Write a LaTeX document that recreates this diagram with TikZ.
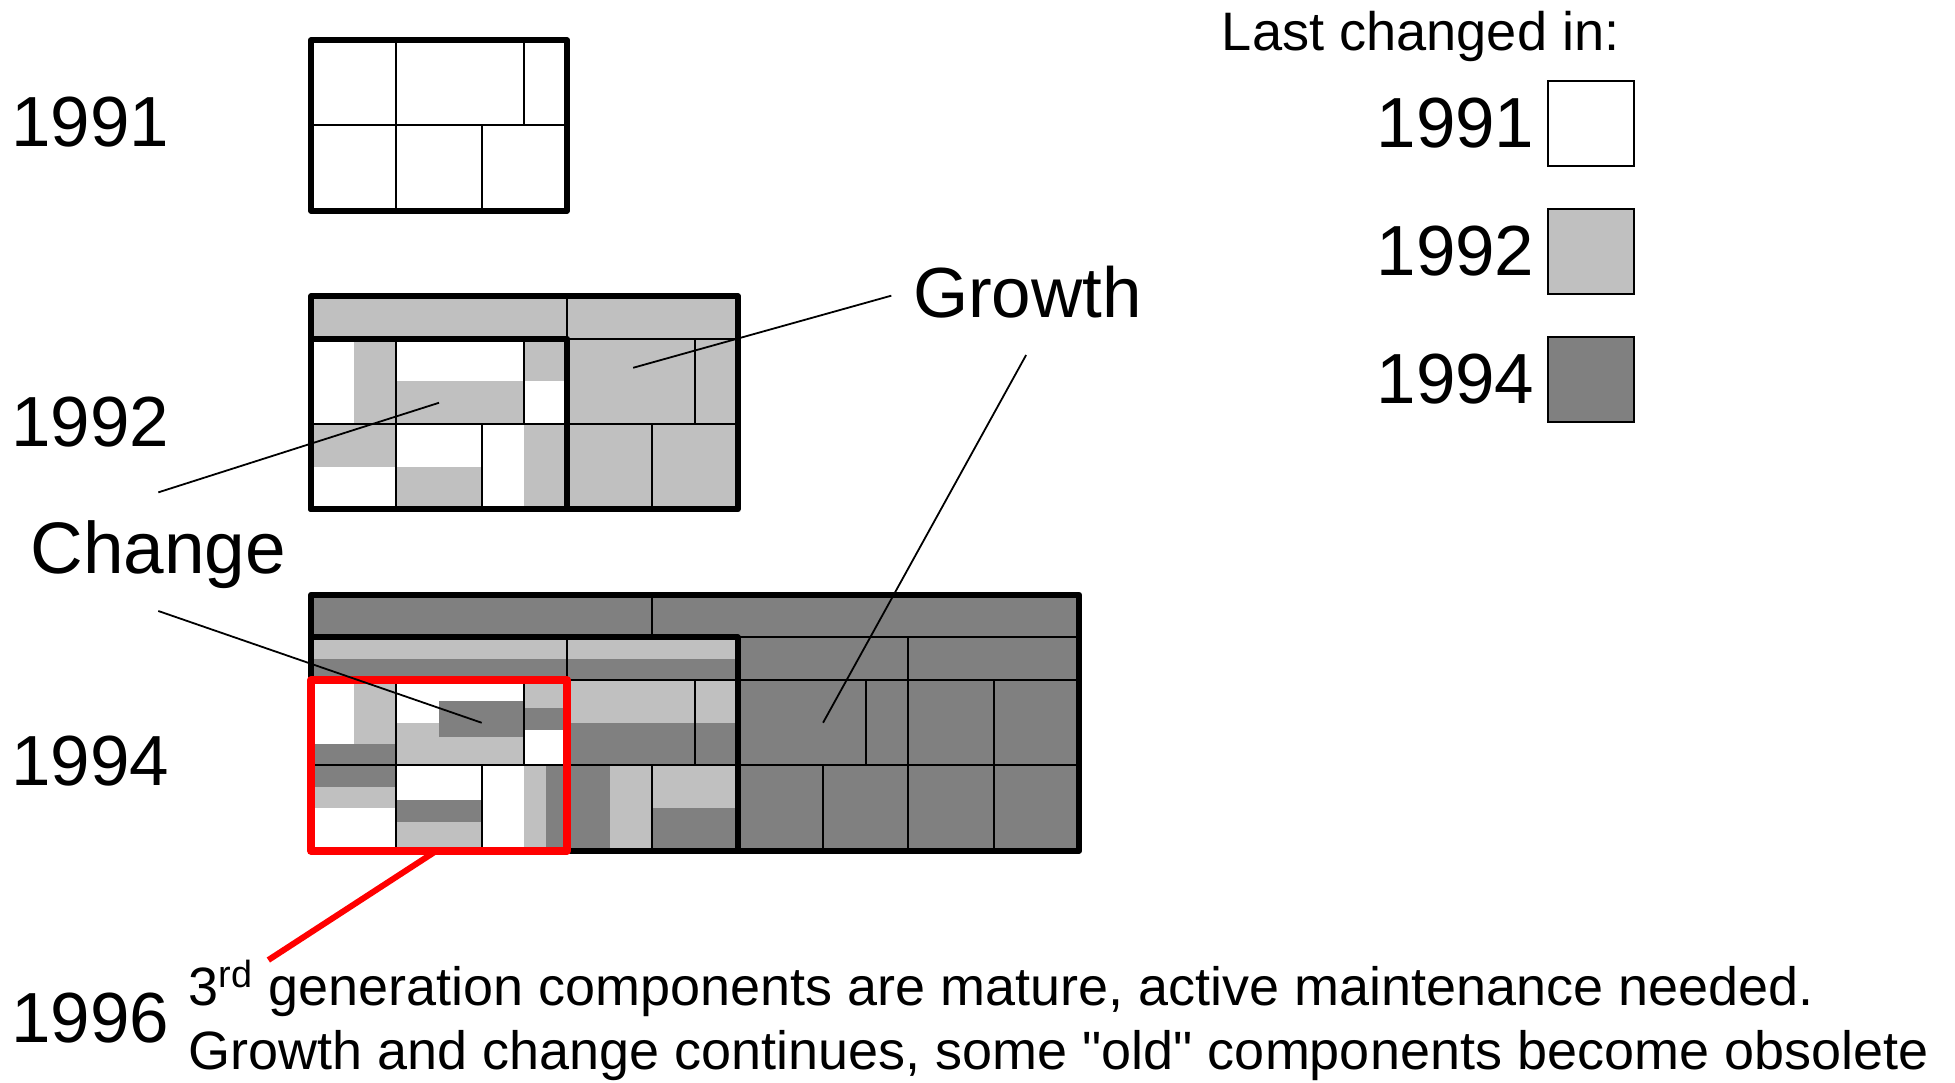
\documentclass[tikz,border=0pt]{standalone}
\usepackage{fontspec}
\setmainfont{Liberation Sans}
\usetikzlibrary{positioning}
\definecolor{lightg}{RGB}{192,192,192}
\definecolor{darkg}{RGB}{128,128,128}
\newcommand{\lgt}[4]{\fill[lightg] (#1,#2) rectangle (#3,#4);}
\newcommand{\drk}[4]{\fill[darkg] (#1,#2) rectangle (#3,#4);}
\newcommand{\vsep}[3]{\draw[cellline] (#1,#2) -- (#1,#3);}
\newcommand{\hsep}[3]{\draw[cellline] (#2,#1) -- (#3,#1);}
\tikzset{
	cellline/.style={line width=1pt},
	boxline/.style={line width=3pt,line join=round},
	redline/.style={line width=4pt,red,line join=round},
	pointer/.style={line width=0.9pt},
	bigtext/.style={font=\fontsize{35.5}{40}\selectfont,inner sep=0pt},
	smalltext/.style={font=\fontsize{27}{32}\selectfont,inner sep=0pt},
	legbox/.style={draw,line width=1pt,minimum size=1.5cm,inner sep=0pt}
}

\begin{document}
\begin{tikzpicture}[x=0.75cm,y=0.75cm]
	\useasboundingbox (-7.29,-5.42) rectangle (38.53,19.94);
	% 1991
	\draw[cellline] (0,17) -- (6,17);
	\vsep{2}{15}{19} \vsep{5}{17}{19} \vsep{4}{15}{17}
	\draw[boxline] (0,15) rectangle (6,19);
	% 1992
	\lgt{0}{12}{10}{13} \lgt{6}{8}{10}{12}
	\lgt{1}{10}{2}{12} \lgt{2}{10}{5}{11} \lgt{5}{11}{6}{12}
	\lgt{0}{9}{2}{10} \lgt{2}{8}{4}{9} \lgt{5}{8}{6}{10}
	\hsep{10}{0}{10} \hsep{12}{6}{10}
	\vsep{6}{12}{13} \vsep{2}{8}{12} \vsep{5}{10}{12} \vsep{4}{8}{10}
	\vsep{9}{10}{12} \vsep{8}{8}{10}
	\draw[boxline] (0,8) rectangle (10,13);
	\draw[boxline] (0,8) rectangle (6,12);
	% 1994
	\drk{0}{5}{18}{6} \drk{10}{0}{18}{5}
	\lgt{0}{4.5}{10}{5} \drk{0}{4}{10}{4.5}
	\lgt{6}{3}{10}{4} \drk{6}{2}{10}{3}
	\drk{6}{0}{7}{2} \lgt{7}{0}{8}{2}
	\lgt{8}{1}{10}{2} \drk{8}{0}{10}{1}
	\lgt{1}{2.5}{2}{4} \drk{0}{2}{2}{2.5}
	\lgt{2}{2}{5}{3} \drk{3}{2.67}{5}{3.5}
	\lgt{5}{3.35}{6}{4} \drk{5}{2.83}{6}{3.35}
	\drk{0}{1.5}{2}{2} \lgt{0}{1}{2}{1.5}
	\drk{2}{0.67}{4}{1.19} \lgt{2}{0}{4}{0.67}
	\lgt{5}{0}{5.5}{2} \drk{5.5}{0}{6}{2}
	\hsep{5}{10}{18} \hsep{4}{6}{18} \hsep{2}{0}{18}
	\vsep{8}{5}{6} \vsep{6}{4}{5} \vsep{14}{0}{5}
	\vsep{13}{2}{4} \vsep{16}{0}{4} \vsep{12}{0}{2}
	\vsep{9}{2}{4} \vsep{8}{0}{2}
	\vsep{2}{0}{4} \vsep{5}{2}{4} \vsep{4}{0}{2}
	\draw[boxline] (0,0) rectangle (18,6);
	\draw[boxline] (0,5) -- (10,5) -- (10,0);
	\draw[redline] (0,0) rectangle (6,4);
	% labels
	\node[bigtext,anchor=base west] (y91) at (-7.03,16.50) {1991};
	\node[bigtext,anchor=base west] (y92) at (-7.03,9.485) {1992};
	\node[bigtext,anchor=base west] (y94) at (-7.03,1.523) {1994};
	\node[bigtext,anchor=base west] (y96) at (-7.03,-4.483) {1996};
	\node[bigtext,anchor=base,font=\fontsize{36.5}{40}\selectfont] (change) at (-3.58,6.51) {Change};
	\node[bigtext,anchor=base] (growth) at (16.79,12.51) {Growth};
	\node[smalltext,anchor=base west] (note1) at (-2.88,-3.616) {3\textsuperscript{rd} generation components are mature, active maintenance needed.};
	\node[smalltext,anchor=base west] (note2) at (-2.88,-5.116) {Growth and change continues, some \textquotedbl old\textquotedbl\ components become obsolete};
	% pointers
	\coordinate (chg-a) at (-3.58,8.40);
	\coordinate (chg-b) at (-3.58,5.62);
	\coordinate (grw-a) at (13.60,13.01);
	\coordinate (grw-b) at (16.76,11.62);
	\coordinate (red-a) at (2.94,0);
	\coordinate (red-b) at (-1.0,-2.56);
	\draw[pointer] (chg-a) -- (3,10.5);
	\draw[pointer] (chg-b) -- (4,3);
	\draw[pointer] (grw-a) -- (7.55,11.32);
	\draw[pointer] (grw-b) -- (12,3);
	\draw[red,line width=3pt] (red-a) -- (red-b);
	% legend
	\node[smalltext,anchor=base west,font=\fontsize{27.1}{30}\selectfont] (lastchg) at (21.34,18.765) {Last changed in:};
	\node[legbox,fill=white] (leg91) at (30,17.05) {};
	\node[legbox,fill=lightg] (leg92) at (30,14.05) {};
	\node[legbox,fill=darkg] (leg94) at (30,11.05) {};
	\node[bigtext,left=0.22cm of leg91] (l91) {1991};
	\node[bigtext,left=0.22cm of leg92] (l92) {1992};
	\node[bigtext,left=0.22cm of leg94] (l94) {1994};
\end{tikzpicture}
\end{document}
